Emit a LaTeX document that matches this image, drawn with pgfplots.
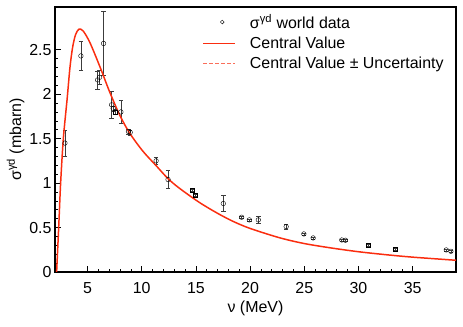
\documentclass[border=0pt]{standalone}
\usepackage{fontspec}
\setmainfont{Liberation Sans}
\usepackage{pgfplots}
\pgfplotsset{compat=1.18}
\definecolor{curvered}{RGB}{250,45,15}
\definecolor{dashred}{RGB}{250,110,90}
\definecolor{errgray}{RGB}{60,60,60}
\pgfplotsset{
  longline/.style={legend image code/.code={%
    \pgfsetlinewidth{1.4pt}\pgfsetstrokecolor{curvered}%
    \pgfpathmoveto{\pgfpoint{0bp}{0bp}}\pgfpathlineto{\pgfpoint{32bp}{0bp}}\pgfusepath{stroke}}},
  longdash/.style={legend image code/.code={%
    \pgfsetlinewidth{0.9pt}\pgfsetstrokecolor{dashred}\pgfsetdash{{3.5bp}{2.5bp}}{0bp}%
    \pgfpathmoveto{\pgfpoint{0bp}{0bp}}\pgfpathlineto{\pgfpoint{32bp}{0bp}}\pgfusepath{stroke}}},
  markleg/.style={legend image code/.code={\draw[draw=black, thin] (19bp,0bp) circle[radius=1.9bp];}},
}

\begin{document}
\begin{tikzpicture}
\begin{axis}[
  name=ax,
  scale only axis,
  width=401bp, height=265bp,
  xmin=2, xmax=39, ymin=0, ymax=2.98,
  xtick={5,10,...,35}, ytick={0,0.5,...,2.5},
  minor x tick num=4, minor y tick num=4,
  tick pos=left, tick align=inside,
  major tick length=6bp, minor tick length=3.5bp,
  axis line style={line width=1.1pt},
  every tick/.style={black, line width=0.6pt},
  /pgf/number format/assume math mode=true,
  yticklabel style={/pgf/number format/fixed, /pgf/number format/precision=1},
  xticklabel style={anchor=center, yshift=-16bp},
  font=\fontsize{16}{19}\selectfont,
  xlabel={ν (MeV)},
  ylabel={σ\textsuperscript{γd} (mbarn)},
  xlabel style={at={(rel axis cs:0.5,0)}, anchor=center, yshift=-36bp},
  ylabel style={yshift=-2bp},
  legend style={fill=none, draw=none, at={(rel axis cs:0.365,0.985)}, anchor=north west,
    font=\fontsize{16}{19}\selectfont, row sep=3bp, column sep=12bp, inner sep=1bp},
  legend cell align=left,
]
% world data, circles
\addplot[only marks, mark=o, mark size=2.3pt, black, thin, markleg,
  error bars/.cd, y dir=both, y explicit, error bar style={errgray, line width=0.6pt},
  error mark options={rotate=90, mark size=2.2pt, errgray}]
  table[x=x, y=y, y error=e] {
x y e
2.92 1.45 0.15
4.39 2.43 0.165
5.93 2.16 0.10
6.11 2.19 0.08
6.48 2.57 0.36
7.22 1.88 0.15
7.37 1.84 0.03
8.08 1.80 0.13
8.78 1.58 0.03
8.94 1.57 0.03
11.33 1.25 0.04
12.43 1.04 0.10
17.53 0.77 0.09
19.22 0.616 0.01
19.93 0.586 0.01
20.76 0.586 0.04
23.33 0.51 0.03
24.96 0.428 0.01
25.82 0.383 0.01
28.46 0.36 0.01
28.80 0.357 0.01
38.10 0.248 0.01
38.53 0.233 0.01
};
\addlegendentry{σ\textsuperscript{γd} world data}
% central value
\addplot[curvered, line width=1.5pt, smooth, tension=0.5, longline] coordinates {
(2.15,0) (2.34,0.5) (2.52,1.0) (2.77,1.5) (3.13,1.96) (3.38,2.30) (3.63,2.53)
(3.9,2.67) (4.21,2.73) (4.6,2.71) (5.22,2.58) (6.14,2.31) (7.06,2.02)
(7.99,1.76) (8.9,1.56) (10.1,1.36) (11.3,1.20) (12.43,1.05) (13.5,0.94)
(15.35,0.78) (17,0.66) (18.42,0.57) (20,0.49) (22.72,0.385) (25,0.32)
(27.5,0.27) (30,0.228) (32.5,0.195) (35,0.167) (39,0.132)
};
\addlegendentry{Central Value}
\addlegendimage{longdash}
\addlegendentry{Central Value ± Uncertainty}
% world data, squares
\addplot[only marks, mark=square, mark size=2.1pt, black, thin,
  error bars/.cd, y dir=both, y explicit, error bar style={errgray, line width=0.6pt},
  error mark options={rotate=90, mark size=1.8pt, errgray}]
  table[x=x, y=y, y error=e] {
x y e
7.59 1.80 0.03
14.64 0.92 0.01
14.95 0.86 0.01
30.91 0.30 0.01
33.40 0.26 0.01
};
\end{axis}
\path ([shift={(-55bp,-55bp)}]ax.south west) rectangle ([shift={(7bp,7bp)}]ax.north east);
\end{tikzpicture}
\end{document}
